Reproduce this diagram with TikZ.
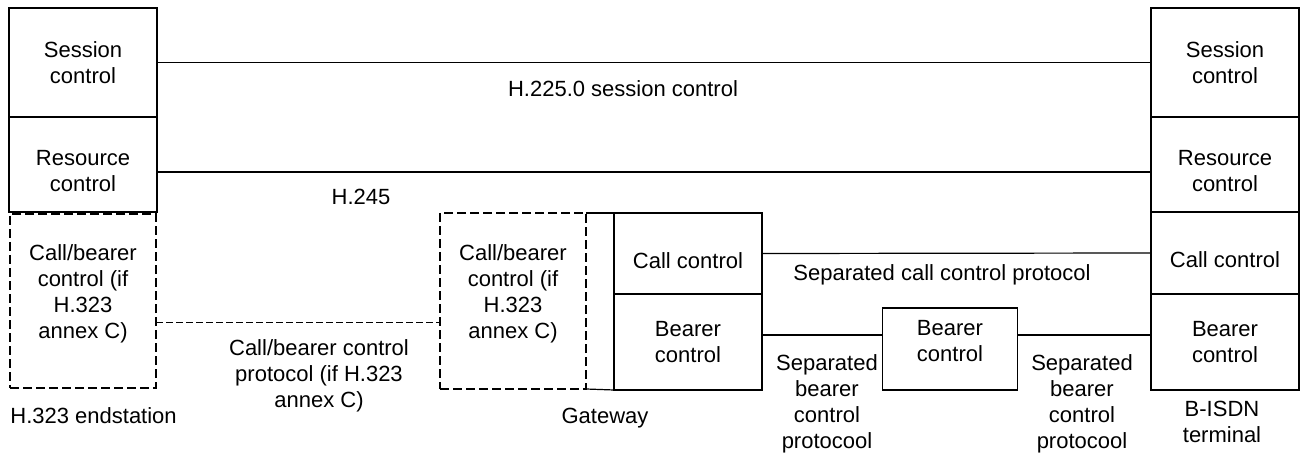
\documentclass[tikz,border=0pt]{standalone}
\usepackage{fontspec}
\setmainfont{Liberation Sans}
\begin{document}
\begin{tikzpicture}[x=0.5pt,y=-0.5pt,font=\fontsize{11}{13}\selectfont]
\tikzset{blk/.style={draw, line width=0.6pt, inner sep=0pt, outer sep=0pt, align=center},
  optblk/.style={blk, line width=1pt, dash pattern=on 4.5pt off 2pt},
  wire/.style={line width=0.6pt},
  optwire/.style={line width=0.5pt, dash pattern=on 3.5pt off 1.5pt},
  lbl/.style={align=center, anchor=base, inner sep=0pt}}
\useasboundingbox (0,0) rectangle (1300,454);
% H.323 endstation
\node[blk, minimum width=74pt, minimum height=54.5pt] (lsess) at (83, 62.5) {Session\\control};
\node[blk, minimum width=74pt, minimum height=47.5pt, text height=27pt, text depth=0pt] (lres) at (83, 164.5) {Resource\\control};
\node[optblk, minimum width=73pt, minimum height=87pt, text height=47pt, text depth=10pt] (lcb) at (83, 301) {Call/bearer\\control (if\\H.323\\annex C)};
% gateway
\node[optblk, minimum width=73pt, minimum height=88pt, text height=47pt, text depth=10pt] (gcb) at (513, 301) {Call/bearer\\control (if\\H.323\\annex C)};
\node[blk, minimum width=74pt, minimum height=40.5pt, text height=15pt, text depth=0pt] (gcall) at (688, 253.5) {Call control};
\node[blk, minimum width=74pt, minimum height=48pt] (gbear) at (688, 342) {Bearer\\control};
\node[blk, minimum width=67.5pt, minimum height=41pt, text depth=8.3pt] (mbear) at (950, 349) {Bearer\\control};
% B-ISDN terminal
\node[blk, minimum width=74pt, minimum height=54.5pt] (rsess) at (1225, 62.5) {Session\\control};
\node[blk, minimum width=74pt, minimum height=47.5pt, text height=27pt, text depth=0pt] (rres) at (1225, 164.5) {Resource\\control};
\node[blk, minimum width=74pt, minimum height=41pt, text height=15pt, text depth=0pt] (rcall) at (1225, 253) {Call control};
\node[blk, minimum width=74pt, minimum height=48pt] (rbear) at (1225, 342) {Bearer\\control};
% protocols
\draw[wire] (lsess.east) -- (rsess.west);
\draw[wire] ([yshift=-3.75pt]lres.east) -- ([yshift=-3.75pt]rres.west);
\draw[optwire] ([yshift=-10.5pt]lcb.east) -- ([yshift=-10.5pt]gcb.west);
\draw[wire] (gcb.north east) -- (gcall.north west);
\draw[wire] (gcb.south east) -- (gbear.south west);
\draw[wire] (gcall.east) -- (rcall.west);
\draw[wire] ([yshift=3.5pt]gbear.east) -- ([yshift=7pt]mbear.west);
\draw[wire] ([yshift=7pt]mbear.east) -- ([yshift=3.5pt]rbear.west);
% labels
\node[lbl] (h225) at (623, 96.7) {H.225.0 session control};
\node[lbl] (h245) at (361, 205) {H.245};
\node[lbl] (cbprot) at (319, 407) {Call/bearer control\\protocol (if H.323\\annex C)};
\node[lbl, anchor=base west] (endst) at (10, 423) {H.323 endstation};
\node[lbl] (gw) at (605, 423) {Gateway};
\node[lbl] (sccp) at (942, 280) {Separated call control protocol};
\node[lbl] (sbcp1) at (827, 448) {Separated\\bearer\\control\\protocool};
\node[lbl] (sbcp2) at (1082, 448) {Separated\\bearer\\control\\protocool};
\node[lbl] (bisdn) at (1222, 442) {B-ISDN\\terminal};
\end{tikzpicture}
\end{document}
